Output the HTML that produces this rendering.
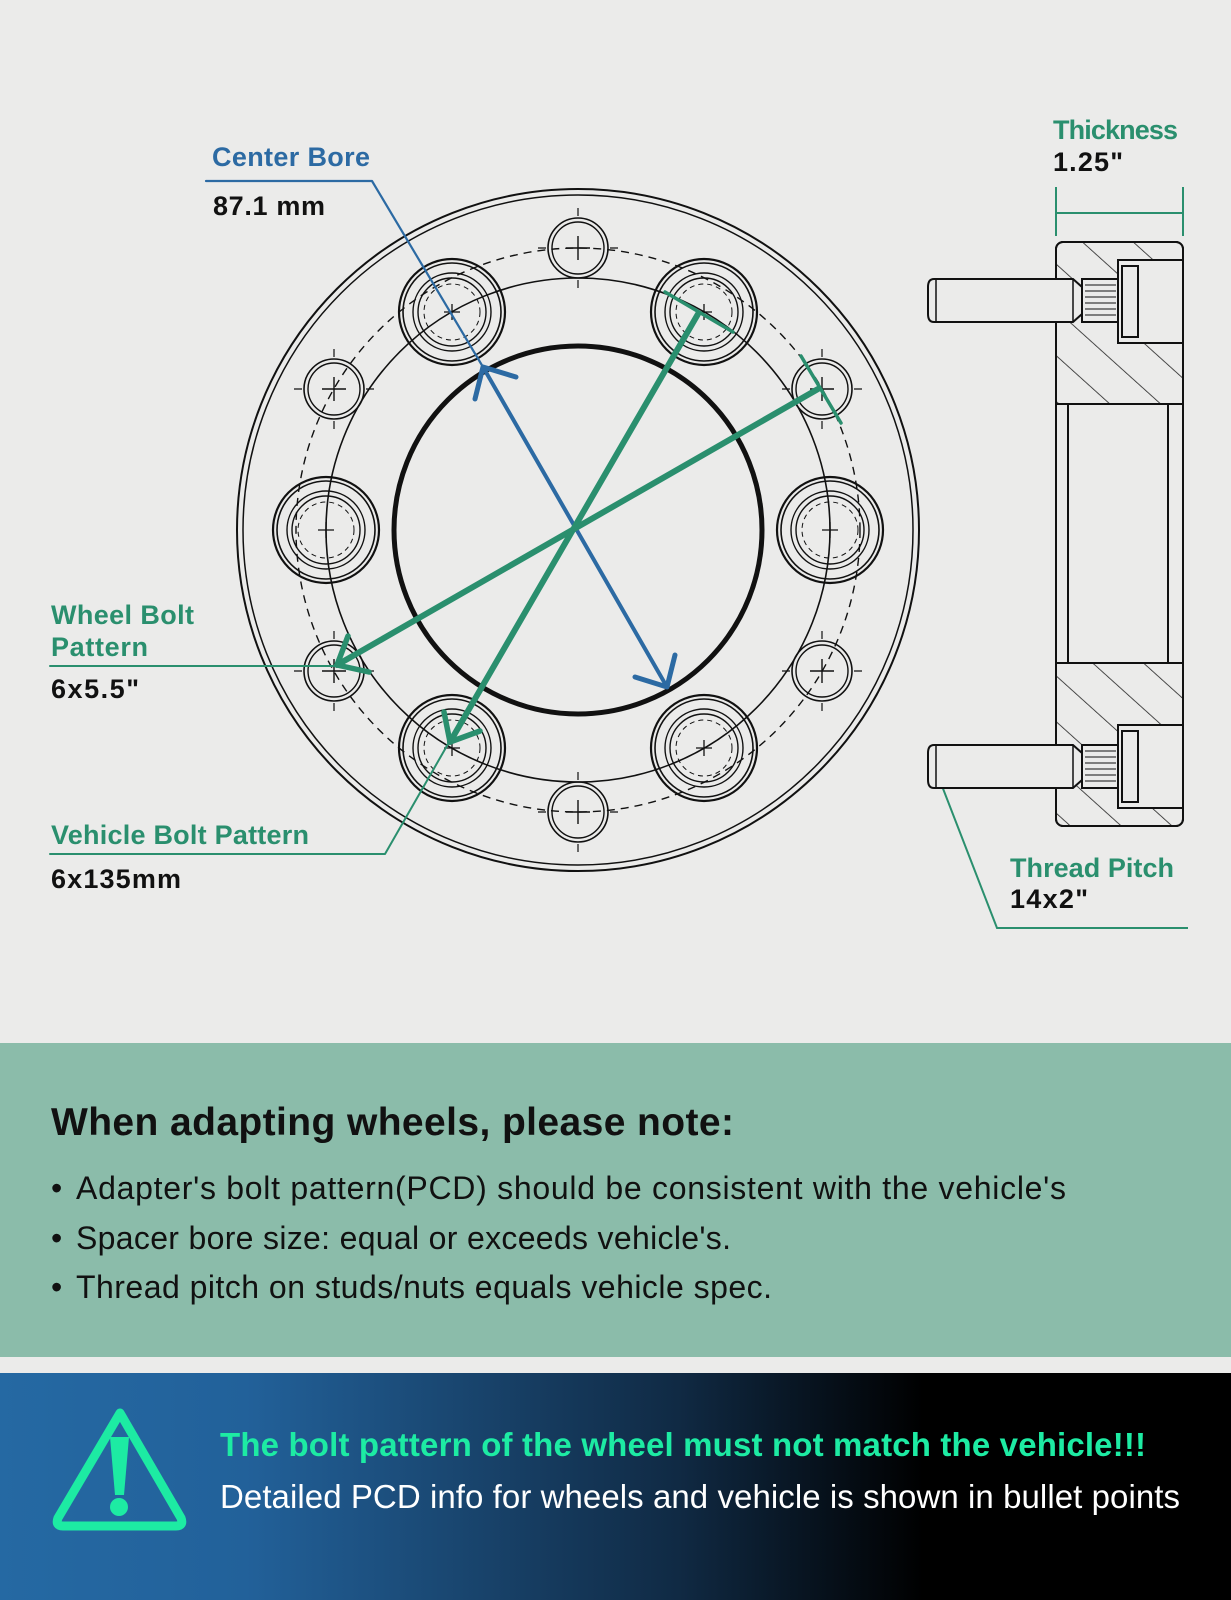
<!DOCTYPE html>
<html><head><meta charset="utf-8"><style>
html,body{margin:0;padding:0;background:#ebebea;}
svg{display:block;}
text{font-family:"Liberation Sans",sans-serif;}
</style></head><body>
<svg width="1231" height="1600" viewBox="0 0 1231 1600" xmlns="http://www.w3.org/2000/svg">
<defs>
<linearGradient id="dk" x1="0" x2="1" y1="0" y2="0">
<stop offset="0" stop-color="#2569a3"/><stop offset="0.2" stop-color="#22619a"/><stop offset="0.55" stop-color="#102a44"/><stop offset="0.75" stop-color="#000"/><stop offset="1" stop-color="#000"/>
</linearGradient>
<pattern id="hatch" width="34" height="34" patternUnits="userSpaceOnUse" patternTransform="rotate(-48)">
<line x1="0" y1="0" x2="0" y2="34" stroke="#222" stroke-width="1.6"/>
</pattern>
<g id="big" fill="none" stroke="#111">
<circle r="53" stroke-width="2.2"/><circle r="49" stroke-width="1.6"/><circle r="39" stroke-width="1.4"/><circle r="34" stroke-width="1.4"/><circle r="28" stroke-width="1" stroke-dasharray="5 4"/>
<path d="M-8 0H8M0 -8V8" stroke-width="1.3"/>
</g>
<g id="small" fill="none" stroke="#111">
<circle r="30" stroke-width="1.6"/><circle r="26" stroke-width="1.4"/>
<path d="M-12 0H12M0 -12V12" stroke-width="1.4"/>
<path d="M-40 0H-32M32 0H40M0 -40V-32M0 32V40" stroke-width="1.2"/>
</g>
</defs>
<rect width="1231" height="1600" fill="#ebebea"/>

<g fill="none" stroke="#111">
<circle cx="578" cy="530" r="341" stroke-width="2"/>
<circle cx="578" cy="530" r="335" stroke-width="1.5"/>
<circle cx="578" cy="530" r="282" stroke-width="1.4" stroke-dasharray="8 6"/>
<circle cx="578" cy="530" r="252" stroke-width="1.6"/>
<circle cx="578" cy="530" r="184" stroke-width="5"/>
</g>
<use href="#big" x="830" y="530"/><use href="#big" x="326" y="530"/>
<use href="#big" x="704" y="312"/><use href="#big" x="452" y="312"/>
<use href="#big" x="704" y="748"/><use href="#big" x="452" y="748"/>
<use href="#small" x="578" y="248"/><use href="#small" x="578" y="812"/>
<use href="#small" x="334" y="389"/><use href="#small" x="822" y="389"/>
<use href="#small" x="334" y="671"/><use href="#small" x="822" y="671"/>

<g stroke="#2c6aa3" fill="none" stroke-linecap="round" stroke-linejoin="round">
<path d="M206 181H372L483 367" stroke-width="2.2"/>
<path d="M483 367L667 687" stroke-width="4"/>
<path d="M475 399L483 367L516 377" stroke-width="5"/>
<path d="M675 655L667 687L635 677" stroke-width="5"/>
</g>
<g stroke="#2a8f6e" fill="none" stroke-linecap="round" stroke-linejoin="round">
<path d="M818 389L337 665" stroke-width="6"/>
<path d="M698 314L450 742" stroke-width="6"/>
<path d="M801 356L841 423" stroke-width="3.5"/>
<path d="M665 292L733 332" stroke-width="3.5"/>
<path d="M348 636L337 665L369 672" stroke-width="5.5"/>
<path d="M444 712L450 742L480 731" stroke-width="5.5"/>
<path d="M50 666H337" stroke-width="2"/>
<path d="M50 854H385L448 744" stroke-width="2"/>
</g>

<g font-weight="bold" font-size="27">
<text x="212" y="166" fill="#2c6aa3" textLength="158">Center Bore</text>
<text x="213" y="215" fill="#111" textLength="112">87.1 mm</text>
<text x="51" y="624" fill="#2a8f6e" textLength="143">Wheel Bolt</text>
<text x="51" y="656" fill="#2a8f6e" textLength="97">Pattern</text>
<text x="51" y="698" fill="#111" textLength="88">6x5.5"</text>
<text x="51" y="844" fill="#2a8f6e" textLength="258">Vehicle Bolt Pattern</text>
<text x="51" y="888" fill="#111" textLength="130">6x135mm</text>
<text x="1053" y="139" fill="#2a8f6e" textLength="125">Thickness</text>
<text x="1053" y="171" fill="#111" textLength="70">1.25"</text>
<text x="1010" y="877" fill="#2a8f6e" textLength="164">Thread Pitch</text>
<text x="1010" y="908" fill="#111" textLength="78">14x2"</text>
</g>

<g stroke="#2a8f6e" stroke-width="2" fill="none">
<path d="M1056 187V236M1183 187V236M1056 213H1183"/>
<path d="M942 786L997 928H1188"/>
</g>
<g stroke="#111" stroke-width="2">
<rect x="1056" y="242" width="127" height="584" rx="7" fill="#ebebea"/>
<path d="M1056 242H1183V404H1056Z" fill="url(#hatch)" stroke="none"/>
<path d="M1056 663H1183V826H1056Z" fill="url(#hatch)" stroke="none"/>
<rect x="1056" y="404" width="127" height="259" fill="#ebebea"/>
<rect x="1056" y="242" width="127" height="584" rx="7" fill="none"/>
<path d="M1068 404V663M1168 404V663M1068 404H1168M1068 663H1168" fill="none"/>
<rect x="1118" y="260" width="65" height="83" fill="#ebebea"/>
<rect x="1122" y="266" width="16" height="71" fill="#ebebea"/>
<rect x="1118" y="725" width="65" height="83" fill="#ebebea"/>
<rect x="1122" y="731" width="16" height="71" fill="#ebebea"/>
<path d="M1082 279H1118V322H1082Z M1082 745H1118V788H1082Z" fill="#ebebea"/>
<path d="M1085 285H1116M1085 291H1116M1085 297H1116M1085 303H1116M1085 309H1116M1085 315H1116M1085 751H1116M1085 757H1116M1085 763H1116M1085 769H1116M1085 775H1116M1085 781H1116" stroke-width="1"/>
<path d="M934 279H1073L1082 287V314L1073 322H934Q928 322 928 314V287Q928 279 934 279Z" fill="#ebebea"/>
<path d="M934 745H1073L1082 753V780L1073 788H934Q928 788 928 780V753Q928 745 934 745Z" fill="#ebebea"/>
<path d="M936 280V321M1073 280V321M936 746V787M1073 746V787" stroke-width="1.5"/>
</g>

<rect x="0" y="1043" width="1231" height="314" fill="#8bbcaa"/>
<text x="51" y="1135" font-size="39" font-weight="bold" fill="#111" textLength="683">When adapting wheels, please note:</text>
<g font-size="32" fill="#111">
<text x="51" y="1199">•</text><text x="76" y="1199" textLength="990">Adapter's bolt pattern(PCD) should be consistent with the vehicle's</text>
<text x="51" y="1249">•</text><text x="76" y="1249" textLength="655">Spacer bore size: equal or exceeds vehicle's.</text>
<text x="51" y="1298">•</text><text x="76" y="1298" textLength="696">Thread pitch on studs/nuts equals vehicle spec.</text>
</g>

<rect x="0" y="1373" width="1231" height="227" fill="url(#dk)"/>
<path d="M120 1413L181 1518Q184 1526 176 1526H63Q55 1526 58 1518Z" fill="none" stroke="#1deba3" stroke-width="9" stroke-linejoin="round"/>
<path d="M110 1437H129L124 1495H115Z" fill="#1deba3"/>
<circle cx="119" cy="1507" r="9" fill="#1deba3"/>
<text x="220" y="1456" font-size="33" font-weight="bold" fill="#1deba3" textLength="926">The bolt pattern of the wheel must not match the vehicle!!!</text>
<text x="220" y="1508" font-size="33" fill="#fff" textLength="960">Detailed PCD info for wheels and vehicle is shown in bullet points</text>
</svg>
</body></html>
